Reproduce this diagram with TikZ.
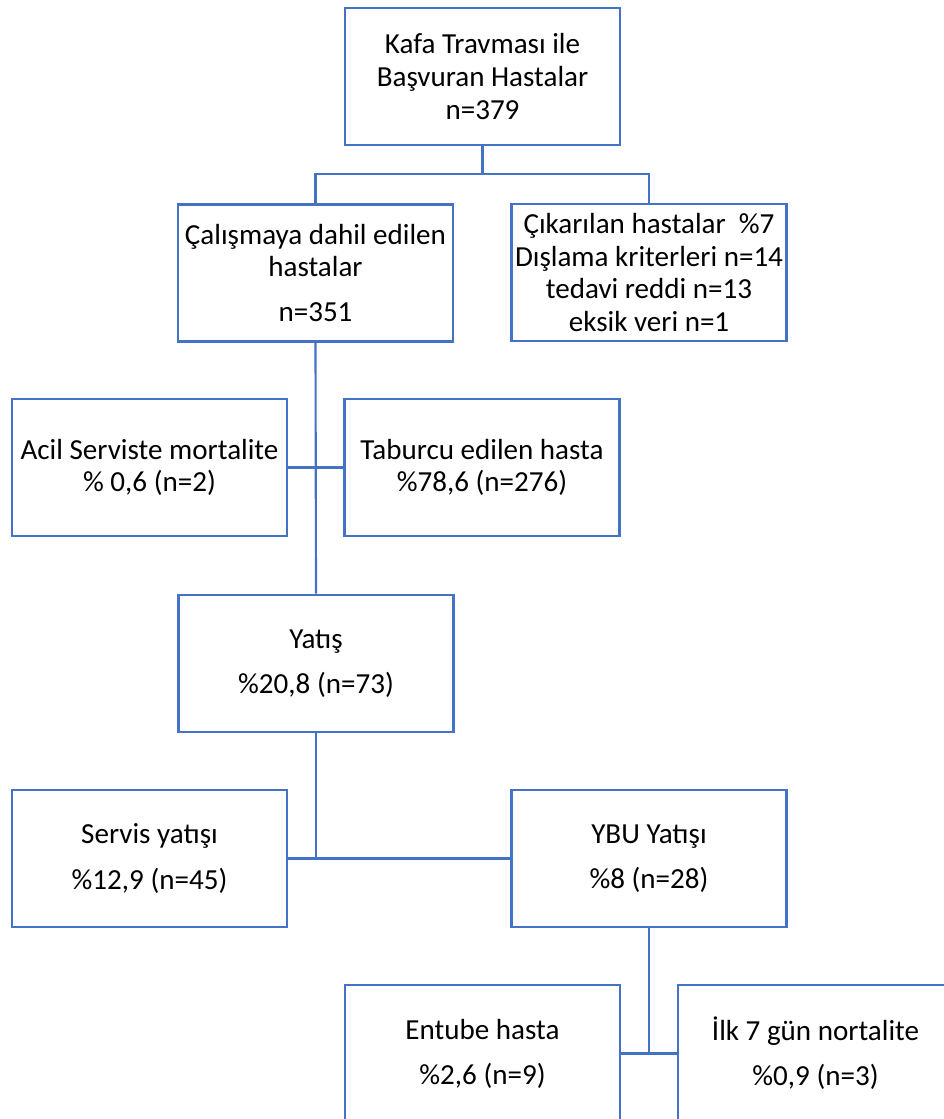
\documentclass[tikz,border=0pt]{standalone}
\usepackage{fontspec}
\setmainfont{Carlito}
\definecolor{boxblue}{HTML}{4472C4}
\begin{document}
\begin{tikzpicture}[x=0.75pt,y=-0.75pt,
  fbox/.style={draw=boxblue, line width=1.9pt, fill=white, inner sep=0pt,
    minimum width=206pt, minimum height=103pt, align=center,
    font=\fontsize{21.8}{24.4}\selectfont},
  conn/.style={draw=boxblue, line width=1.6pt}]
\useasboundingbox (0,0) rectangle (944,1119);
\clip (0,0) rectangle (944,1119);
\node[fbox] (top) at (482.5,76.5) {Kafa Travması ile\\Başvuran Hastalar\\n=379};
\node[fbox] (incl) at (315.5,273) {Çalışmaya dahil edilen\\hastalar\\[9pt]n=351};
\node[fbox] (excl) at (649,272.5) {Çıkarılan hastalar\ \ \%7\\Dışlama kriterleri n=14\\tedavi reddi n=13\\eksik veri n=1};
\node[fbox] (acil) at (149.5,467.5) {Acil Serviste mortalite\\\% 0,6 (n=2)};
\node[fbox] (tab) at (482,467.5) {Taburcu edilen hasta\\\%78,6 (n=276)};
\node[fbox] (yatis) at (316,663.5) {Yatış\\[9.4pt]\%20,8 (n=73)};
\node[fbox] (servis) at (149.5,858.5) {Servis yatışı\\[9.4pt]\%12,9 (n=45)};
\node[fbox] (ybu) at (649,858.5) {YBU Yatışı\\[9.4pt]\%8 (n=28)};
\node[fbox] (ent) at (482.5,1053.5) {Entube hasta\\[9.4pt]\%2,6 (n=9)};
\node[fbox] (ilk) at (815.5,1053.5) {İlk 7 gün nortalite\\[9.4pt]\%0,9 (n=3)};
\coordinate (j1) at (482.5,174);
\draw[conn] (top.south) -- (j1);
\draw[conn] (j1) -| (incl.north);
\draw[conn] (j1) -| (excl.north);
\draw[conn] (incl.south) -- (yatis.north);
\draw[conn] (acil.east) -- (tab.west);
\coordinate (j2) at (yatis.south |- servis.east);
\draw[conn] (yatis.south) -- (j2);
\draw[conn] (servis.east) -- (ybu.west);
\coordinate (j3) at (ybu.south |- ent.east);
\draw[conn] (ybu.south) -- (j3);
\draw[conn] (ent.east) -- (ilk.west);
\end{tikzpicture}
\end{document}
